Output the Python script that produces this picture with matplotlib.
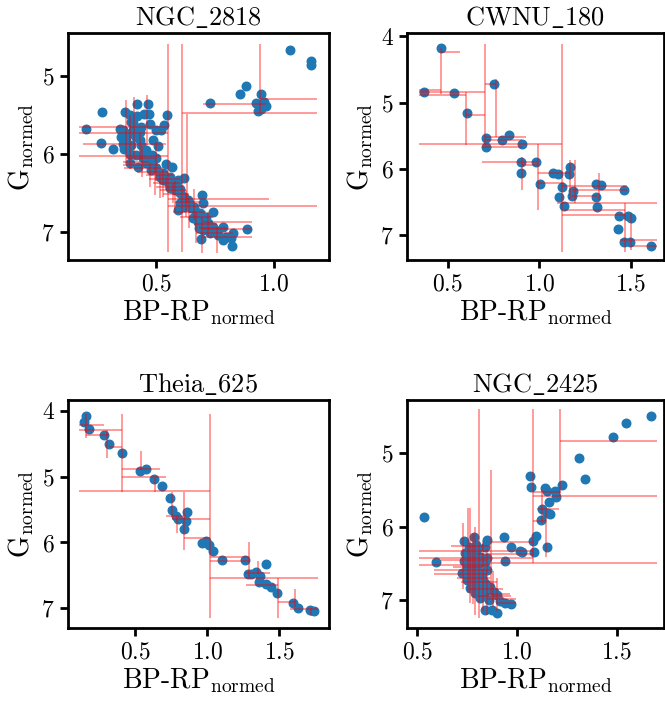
import matplotlib
matplotlib.use("Agg")
import matplotlib.pyplot as plt
from matplotlib.ticker import MultipleLocator

plt.rcParams['font.family'] = 'serif'
plt.rcParams['font.serif'] = ['cmr10']
plt.rcParams['mathtext.fontset'] = 'cm'
plt.rcParams['axes.unicode_minus'] = False
plt.rcParams['axes.formatter.use_mathtext'] = True

# ---- NGC_2818 ----
ngc2818_x = [1.067, 1.159, 1.159, 0.880, 0.856, 0.943, 0.925, 0.956, 0.967, 0.932, 0.946, 0.727,
             0.419, 0.465, 0.269, 0.367, 0.387, 0.450, 0.469, 0.418, 0.547, 0.394, 0.472, 0.436,
             0.531, 0.344, 0.358, 0.401, 0.500, 0.521, 0.200, 0.351, 0.373, 0.415, 0.429, 0.486,
             0.266, 0.358, 0.394, 0.436, 0.316, 0.458, 0.507, 0.365, 0.387, 0.415, 0.443, 0.472,
             0.387, 0.422, 0.458, 0.486, 0.540, 0.565, 0.500, 0.514, 0.479, 0.514, 0.528, 0.550,
             0.592, 0.616, 0.557, 0.578, 0.599, 0.613, 0.635, 0.694, 0.698, 0.599, 0.620, 0.649,
             0.670, 0.592, 0.741, 0.684, 0.712, 0.656, 0.677, 0.720, 0.741, 0.783, 0.698, 0.727,
             0.762, 0.797, 0.826, 0.819, 0.887, 0.691, 0.783, 0.823,
             0.400, 0.380, 0.430, 0.450, 0.480, 0.500, 0.530, 0.560, 0.570, 0.600, 0.620, 0.640,
             0.660, 0.690, 0.700, 0.730, 0.750, 0.680]
ngc2818_y = [4.671, 4.812, 4.855, 5.132, 5.231, 5.226, 5.346, 5.333, 5.385, 5.449, 5.427, 5.346,
             5.363, 5.355, 5.462, 5.462, 5.504, 5.483, 5.483, 5.517, 5.504, 5.590, 5.611, 5.662,
             5.628, 5.675, 5.688, 5.697, 5.697, 5.697, 5.684, 5.782, 5.803, 5.782, 5.825, 5.825,
             5.859, 5.868, 5.889, 5.889, 5.932, 5.953, 5.902, 5.944, 5.996, 6.017, 6.060, 6.081,
             6.115, 6.167, 6.124, 6.145, 6.132, 6.167, 6.188, 6.252, 6.209, 6.295, 6.338, 6.359,
             6.338, 6.308, 6.444, 6.466, 6.509, 6.573, 6.594, 6.530, 6.628, 6.637, 6.679, 6.701,
             6.744, 6.722, 6.744, 6.765, 6.808, 6.829, 6.872, 6.893, 6.936, 6.944, 6.979, 7.021,
             7.043, 7.064, 7.021, 7.085, 6.970, 7.094, 7.107, 7.179,
             5.600, 5.750, 5.720, 5.950, 6.020, 6.050, 6.250, 6.300, 6.400, 6.450, 6.550, 6.630,
             6.680, 6.800, 6.880, 6.950, 6.980, 6.950]
ngc2818_h_y = [5.291, 5.363, 5.470, 5.654, 5.739, 5.876, 6.030, 6.145, 6.188, 6.274, 6.380, 6.466,
               6.585, 6.667, 6.744, 6.808, 6.872, 6.970, 7.021, 7.073, 6.060, 6.100, 6.230, 6.320,
               6.420, 6.520, 6.620, 6.900, 6.950]
ngc2818_h_x0 = [0.939, 0.698, 0.610, 0.171, 0.171, 0.188, 0.171, 0.358, 0.365, 0.458, 0.486, 0.514,
                0.550, 0.550, 0.571, 0.599, 0.698, 0.698, 0.670, 0.698, 0.370, 0.360, 0.420, 0.470,
                0.500, 0.530, 0.580, 0.660, 0.680]
ngc2818_h_x1 = [1.184, 0.967, 1.184, 0.550, 0.550, 0.542, 0.550, 0.514, 0.528, 0.571, 0.599, 0.627,
                0.979, 1.184, 0.712, 0.741, 0.908, 0.908, 0.826, 0.908, 0.500, 0.470, 0.550, 0.600,
                0.610, 0.640, 0.690, 0.760, 0.800]
ngc2818_v_x = [0.550, 0.610, 0.939, 0.373, 0.404, 0.462, 0.429, 0.472, 0.493, 0.514, 0.542, 0.571,
               0.627, 0.670, 0.695, 0.759, 0.632, 0.390, 0.440, 0.500, 0.530, 0.580, 0.640, 0.660,
               0.720]
ngc2818_v_y0 = [4.585, 4.585, 4.585, 5.312, 5.269, 5.248, 5.739, 6.124, 6.167, 6.252, 6.295, 6.380,
                6.466, 6.744, 6.808, 6.936, 5.483, 5.500, 5.900, 5.850, 6.200, 6.350, 6.550, 6.450,
                6.750]
ngc2818_v_y1 = [7.256, 7.256, 5.483, 6.124, 6.060, 5.889, 6.081, 6.423, 6.530, 6.573, 6.466, 6.637,
                6.808, 7.150, 7.269, 7.269, 6.637, 6.200, 6.300, 6.350, 6.550, 6.750, 6.950, 6.850,
                7.050]

# ---- CWNU_180 ----
cwnu180_x = [0.464, 0.369, 0.533, 0.605, 0.755, 0.707, 0.711, 0.798, 0.833, 0.905, 0.900, 0.982,
             0.900, 1.005, 1.073, 1.102, 1.169, 1.165, 1.125, 1.187, 1.107, 1.178, 1.135, 1.311,
             1.340, 1.309, 1.316, 1.462, 1.438, 1.485, 1.504, 1.429, 1.465, 1.496, 1.611]
cwnu180_y = [4.176, 4.839, 4.854, 5.156, 4.714, 5.533, 5.668, 5.558, 5.497, 5.633, 5.905, 5.899,
             6.065, 6.236, 6.060, 6.080, 5.980, 6.080, 6.271, 6.332, 6.427, 6.417, 6.558, 6.231,
             6.251, 6.422, 6.583, 6.327, 6.709, 6.709, 6.739, 6.905, 7.106, 7.101, 7.171]
cwnu180_h_y = [4.236, 4.804, 4.844, 4.879, 5.181, 4.714, 5.518, 5.558, 5.633, 5.678, 5.905, 5.945,
               6.070, 6.211, 6.261, 6.322, 6.412, 6.523, 6.623, 6.704, 7.075, 7.166]
cwnu180_h_x0 = [0.464, 0.344, 0.344, 0.344, 0.602, 0.705, 0.705, 0.705, 0.344, 0.687, 0.687, 0.905,
                0.996, 0.996, 1.124, 1.178, 1.178, 1.096, 1.133, 1.124, 1.442, 1.500]
cwnu180_h_x1 = [0.569, 0.464, 0.705, 0.602, 0.705, 0.765, 0.929, 0.905, 1.124, 0.905, 0.996, 0.996,
                1.169, 1.133, 1.482, 1.482, 1.315, 1.642, 1.471, 1.471, 1.642, 1.642]
cwnu180_v_x = [0.464, 0.602, 0.705, 0.765, 1.124, 0.905, 0.996, 1.169, 1.196, 1.329, 1.471, 1.500]
cwnu180_v_y0 = [4.176, 4.839, 4.111, 4.638, 4.111, 5.819, 5.633, 5.869, 5.869, 6.060, 6.523, 6.673]
cwnu180_v_y1 = [4.864, 5.643, 5.643, 5.518, 7.251, 6.322, 6.623, 6.457, 6.523, 6.472, 7.251, 7.226]

# ---- Theia_625 ----
theia625_x = [0.158, 0.147, 0.181, 0.285, 0.318, 0.408, 0.532, 0.579, 0.634, 0.689, 0.740, 0.759,
              0.782, 0.800, 0.860, 0.851, 0.842, 0.967, 0.990, 1.010, 1.040, 1.105, 1.260, 1.283,
              1.306, 1.341, 1.364, 1.410, 1.359, 1.410, 1.445, 1.486, 1.595, 1.627, 1.715, 1.738]
theia625_y = [4.076, 4.167, 4.278, 4.374, 4.511, 4.647, 4.910, 4.880, 5.042, 5.143, 5.320, 5.507,
              5.598, 5.644, 5.543, 5.669, 5.791, 6.008, 5.973, 6.044, 6.124, 6.266, 6.261, 6.484,
              6.479, 6.453, 6.509, 6.327, 6.595, 6.630, 6.681, 6.762, 6.924, 6.989, 7.025, 7.045]
theia625_h_y = [4.218, 4.293, 4.369, 4.546, 4.890, 5.012, 5.219, 5.598, 5.649, 5.937, 6.215, 6.276,
                6.469, 6.544, 6.645, 6.898, 7.010]
theia625_h_x0 = [0.112, 0.112, 0.163, 0.318, 0.410, 0.410, 0.112, 0.712, 0.754, 0.842, 1.017, 1.017,
                 1.260, 1.017, 1.267, 1.493, 1.572]
theia625_h_x1 = [0.285, 0.410, 0.318, 0.410, 0.671, 0.717, 1.017, 0.851, 1.017, 1.017, 1.290, 1.290,
                 1.438, 1.768, 1.493, 1.609, 1.768]
theia625_v_x = [0.158, 0.308, 0.410, 0.544, 0.641, 0.754, 0.791, 0.842, 1.017, 1.290, 1.352, 1.493,
                1.609, 1.722]
theia625_v_y0 = [4.056, 4.293, 4.056, 4.607, 5.027, 5.229, 5.598, 5.229, 4.056, 5.988, 6.276, 6.544,
                 6.711, 6.989]
theia625_v_y1 = [4.420, 4.723, 5.229, 4.900, 5.229, 5.608, 5.861, 6.114, 7.151, 6.544, 6.479, 7.151,
                 6.974, 7.110]

# ---- NGC_2425 ----
ngc2425_x = [1.675, 1.548, 1.481, 1.309, 1.340, 1.066, 1.070, 1.143, 1.150, 1.192, 1.195, 1.228,
             1.163, 1.128, 1.167, 1.122, 1.150, 1.097, 1.078, 1.087, 1.150, 0.532, 0.933, 0.970,
             1.013, 1.023, 0.938, 0.849, 0.592, 0.736, 0.782, 0.757, 0.796, 0.841, 0.741, 0.774,
             0.816, 0.849, 0.732, 0.766, 0.807, 0.841, 0.724, 0.757, 0.791, 0.749, 0.782, 0.824,
             0.766, 0.799, 0.841, 0.866, 0.791, 0.832, 0.883, 0.899, 0.816, 0.858, 0.916, 0.941,
             0.970, 0.841, 0.874, 0.899, 0.749, 0.799, 0.849, 0.824, 0.774,
             0.750, 0.780, 0.800, 0.760, 0.810, 0.790, 0.850, 0.820]
ngc2425_y = [4.491, 4.582, 4.782, 5.068, 5.355, 5.309, 5.455, 5.468, 5.514, 5.509, 5.600, 5.436,
             5.668, 5.759, 5.827, 5.909, 5.818, 6.123, 6.195, 6.341, 6.273, 5.864, 6.141, 6.277,
             6.336, 6.350, 6.464, 6.182, 6.477, 6.195, 6.136, 6.273, 6.250, 6.273, 6.364, 6.386,
             6.409, 6.432, 6.464, 6.500, 6.500, 6.477, 6.636, 6.614, 6.627, 6.727, 6.750, 6.705,
             6.841, 6.818, 6.773, 6.818, 6.909, 6.932, 6.886, 6.932, 6.977, 7.000, 7.009, 7.045,
             7.059, 7.136, 7.136, 7.182, 6.545, 6.568, 6.591, 6.636, 6.682,
             6.400, 6.450, 6.300, 6.560, 6.700, 6.780, 6.860, 6.840]
ngc2425_h_y = [4.827, 5.582, 5.523, 5.764, 5.923, 6.205, 6.336, 6.373, 6.423, 6.491, 6.523, 6.591,
               6.650, 6.705, 6.918, 6.991, 7.045, 6.270, 6.450, 6.550, 6.750, 6.850, 6.950]
ngc2425_h_x0 = [1.217, 1.080, 1.080, 1.100, 1.080, 0.869, 0.507, 0.800, 0.507, 0.869, 0.507, 0.582,
                0.582, 0.699, 0.849, 0.849, 0.900, 0.670, 0.620, 0.680, 0.720, 0.760, 0.800]
ngc2425_h_x1 = [1.701, 1.701, 1.217, 1.213, 1.147, 1.080, 1.080, 1.085, 1.080, 1.701, 0.866, 0.866,
                0.850, 0.866, 0.963, 0.996, 0.996, 0.860, 0.850, 0.840, 0.900, 0.930, 0.970]
ngc2425_v_x = [0.807, 1.080, 1.217, 0.869, 0.752, 0.766, 1.147, 1.125, 0.730, 0.780, 0.790, 0.830,
               0.850, 0.880, 0.900]
ngc2425_v_y0 = [4.400, 4.400, 4.400, 5.227, 5.750, 5.750, 5.773, 5.500, 5.950, 6.100, 6.000, 6.200,
                6.300, 6.600, 6.700]
ngc2425_v_y1 = [7.250, 6.500, 5.582, 6.909, 6.909, 7.045, 6.409, 5.950, 6.850, 7.050, 7.200, 7.150,
                7.200, 7.100, 7.150]

panels = [
    (r'$\mathrm{NGC\_2818}$', ngc2818_x, ngc2818_y,
     (ngc2818_h_y, ngc2818_h_x0, ngc2818_h_x1), (ngc2818_v_x, ngc2818_v_y0, ngc2818_v_y1),
     (0.125, 1.234), (7.363, 4.449), [68, 329, 33, 260]),
    (r'$\mathrm{CWNU\_180}$', cwnu180_x, cwnu180_y,
     (cwnu180_h_y, cwnu180_h_x0, cwnu180_h_x1), (cwnu180_v_x, cwnu180_v_y0, cwnu180_v_y1),
     (0.278, 1.682), (7.377, 3.950), [407, 664, 33, 260]),
    (r'$\mathrm{Theia\_625}$', theia625_x, theia625_y,
     (theia625_h_y, theia625_h_x0, theia625_h_x1), (theia625_v_x, theia625_v_y0, theia625_v_y1),
     (0.036, 1.844), (7.298, 3.838), [68, 329, 400, 628]),
    (r'$\mathrm{NGC\_2425}$', ngc2425_x, ngc2425_y,
     (ngc2425_h_y, ngc2425_h_x0, ngc2425_h_x1), (ngc2425_v_x, ngc2425_v_y0, ngc2425_v_y1),
     (0.448, 1.738), (7.382, 4.273), [407, 664, 400, 628]),
]

W, H = 665, 702
fig = plt.figure(figsize=(W / 100, H / 100), dpi=100)

for title, x, y, hl, vl, xlim, ylim, box in panels:
    l, r, t, b = box
    ax = fig.add_axes([l / W, 1 - b / H, (r - l) / W, (b - t) / H])
    ax.scatter(x, y, s=38, color='#1f77b4', zorder=2)
    ax.hlines(hl[0], hl[1], hl[2], colors='red', alpha=0.5, lw=1.1, zorder=3)
    ax.vlines(vl[0], vl[1], vl[2], colors='red', alpha=0.5, lw=1.1, zorder=3)
    ax.set_xlim(*xlim)
    ax.set_ylim(*ylim)
    ax.xaxis.set_major_locator(MultipleLocator(0.5))
    ax.yaxis.set_major_locator(MultipleLocator(1))
    ax.set_title(title, fontsize=19)
    ax.set_xlabel(r'BP-RP$_{\mathrm{normed}}$', fontsize=20, labelpad=2)
    ax.set_ylabel(r'G$_{\mathrm{normed}}$', fontsize=20, labelpad=4)
    ax.tick_params(labelsize=17, length=6, width=2, direction='out')
    for sp in ax.spines.values():
        sp.set_linewidth(2)

fig.savefig('out.png', dpi=100)
